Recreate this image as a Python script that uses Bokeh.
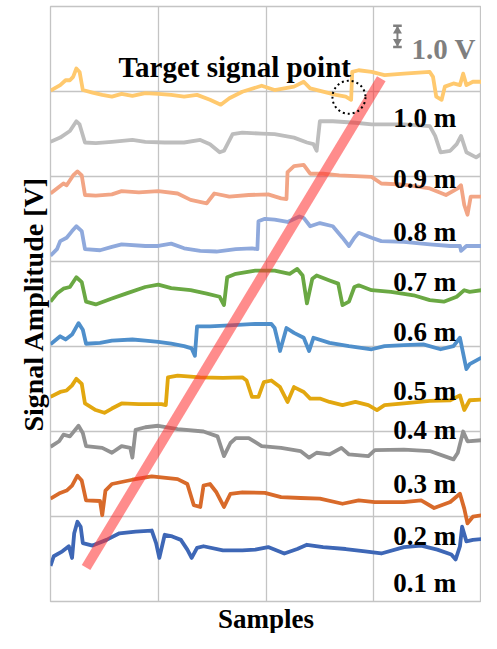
from bokeh.plotting import figure
from bokeh.models import FixedTicker, Title
from bokeh.embed import file_html
from bokeh.resources import INLINE
from bokeh.core.properties import value

# ---- data (samples, volts) ----
x_grid = [0, 100, 200, 300, 400]
y_grid = [0, 4, 8, 12, 16, 20, 24, 28]

distances = ["1.0 m", "0.9 m", "0.8 m", "0.7 m", "0.6 m", "0.5 m", "0.4 m", "0.3 m", "0.2 m", "0.1 m"]

x_10 = [0, 9, 14, 18, 21, 24, 27, 30, 39, 48, 57, 66, 76, 88, 100, 112, 124, 136, 148, 158, 166, 178, 196, 208, 226, 235, 241, 253, 265, 274, 279, 280, 286, 298, 310, 328, 352, 355, 358, 363, 366, 374, 380, 383, 386, 392, 400]
y_10 = [24.04, 24.30, 24.53, 24.53, 24.69, 25.08, 24.92, 24.07, 23.95, 23.84, 23.76, 23.89, 23.79, 23.92, 23.89, 23.84, 23.76, 23.84, 23.61, 23.38, 23.68, 23.99, 24.27, 24.07, 24.23, 24.46, 24.15, 23.99, 23.84, 23.76, 23.61, 24.92, 25.0, 24.92, 24.77, 24.84, 24.92, 24.69, 23.76, 23.61, 24.23, 24.38, 24.30, 24.84, 24.30, 24.46, 24.46]

x_09 = [0, 9, 18, 24, 27, 32, 42, 57, 76, 88, 106, 124, 139, 148, 157, 161, 169, 178, 196, 208, 226, 238, 244, 247, 250, 262, 283, 298, 328, 352, 357, 362, 371, 377, 381, 386, 395, 400]
y_09 = [21.63, 21.83, 22.14, 22.60, 22.45, 21.60, 21.57, 21.63, 21.72, 21.63, 21.60, 21.60, 21.72, 21.52, 21.14, 21.21, 21.99, 22.06, 22.02, 21.99, 21.83, 21.60, 21.52, 21.21, 22.60, 22.60, 22.53, 22.45, 22.45, 22.37, 21.91, 21.14, 21.21, 21.52, 21.91, 21.14, 20.90, 21.06]

x_08 = [0, 6, 12, 15, 21, 25, 29, 32, 42, 57, 66, 82, 100, 118, 130, 145, 152, 166, 184, 202, 214, 219, 220, 226, 235, 241, 253, 268, 283, 298, 307, 328, 352, 367, 378, 381, 384, 387, 390, 400]
y_08 = [19.20, 19.44, 19.67, 19.59, 20.05, 20.24, 20.05, 19.13, 19.10, 19.16, 19.31, 19.25, 19.31, 19.20, 18.90, 18.74, 19.20, 19.05, 19.13, 19.16, 18.97, 18.94, 20.21, 20.49, 20.55, 20.13, 20.13, 20.05, 20.02, 19.98, 19.67, 19.62, 19.44, 19.13, 19.44, 19.59, 18.66, 18.20, 19.05, 19.05]

x_07 = [0, 6, 9, 15, 20, 24, 29, 32, 46, 57, 66, 88, 100, 112, 124, 139, 154, 172, 187, 192, 193, 199, 208, 220, 231, 235, 241, 250, 262, 271, 277, 282, 286, 298, 307, 328, 352, 371, 380, 381, 386, 400]
y_07 = [16.27, 16.58, 16.96, 17.12, 17.43, 17.66, 17.43, 16.58, 16.53, 16.69, 16.81, 16.73, 16.73, 16.84, 16.62, 16.50, 16.47, 16.58, 16.62, 16.58, 17.89, 18.01, 17.97, 17.86, 18.12, 18.05, 17.66, 17.81, 17.66, 17.12, 16.73, 17.12, 17.35, 17.12, 16.96, 16.92, 16.81, 16.73, 16.73, 16.50, 16.73, 16.73]

x_06 = [0, 6, 12, 18, 24, 29, 33, 42, 57, 70, 88, 100, 112, 130, 145, 157, 161, 164, 172, 190, 208, 222, 229, 234, 238, 243, 247, 259, 267, 271, 277, 282, 286, 298, 316, 337, 352, 365, 377, 384, 389, 400]
y_06 = [14.11, 14.49, 14.72, 14.80, 15.26, 15.03, 14.11, 13.98, 14.26, 14.49, 14.80, 14.91, 14.75, 14.65, 14.49, 14.34, 13.95, 15.26, 15.42, 15.57, 15.57, 15.42, 15.65, 15.34, 14.03, 15.19, 15.34, 15.11, 14.96, 13.95, 14.11, 14.80, 14.88, 14.65, 14.57, 14.41, 14.18, 14.11, 14.34, 14.65, 14.57, 14.65]

x_05 = [0, 9, 14, 20, 26, 30, 33, 46, 57, 76, 88, 100, 112, 124, 131, 134, 136, 148, 166, 190, 205, 208, 211, 213, 219, 226, 235, 240, 244, 259, 277, 298, 310, 328, 346, 362, 374, 380, 386, 389, 400]
y_05 = [12.10, 12.48, 12.33, 12.56, 13.10, 12.79, 12.13, 12.17, 12.28, 12.33, 12.28, 12.22, 12.13, 12.02, 11.91, 11.56, 12.95, 12.95, 12.99, 13.06, 13.06, 12.87, 12.25, 11.79, 12.87, 12.64, 12.41, 11.79, 12.41, 12.17, 12.02, 11.87, 12.02, 12.06, 12.10, 11.87, 12.02, 12.41, 10.94, 11.17, 11.48]

x_04 = [0, 9, 15, 20, 24, 29, 32, 42, 50, 57, 66, 82, 103, 107, 109, 118, 139, 160, 178, 182, 187, 193, 198, 205, 213, 220, 226, 235, 241, 250, 259, 271, 283, 295, 303, 310, 328, 352, 371, 380, 384, 389, 400]
y_04 = [9.63, 9.86, 9.93, 10.17, 10.48, 10.24, 9.32, 9.01, 8.88, 9.08, 9.32, 9.29, 9.29, 9.24, 10.55, 10.63, 10.55, 10.52, 10.55, 10.40, 9.63, 9.63, 10.32, 10.40, 10.09, 9.39, 10.09, 9.86, 9.55, 9.55, 9.39, 9.24, 9.39, 9.24, 9.01, 9.24, 9.32, 9.44, 9.47, 9.70, 9.01, 9.47, 9.50]

x_03 = [0, 8, 12, 18, 26, 30, 33, 48, 57, 66, 74, 76, 79, 88, 100, 118, 142, 155, 161, 167, 172, 184, 196, 214, 232, 240, 247, 259, 270, 277, 295, 301, 328, 352, 374, 378, 383, 387, 400]
y_03 = [7.28, 7.54, 7.85, 7.77, 8.27, 7.93, 7.31, 7.23, 7.00, 7.31, 7.23, 6.77, 8.08, 8.20, 8.27, 8.11, 8.00, 7.77, 6.84, 7.46, 7.69, 7.69, 7.31, 7.23, 7.08, 6.77, 7.00, 6.92, 7.23, 6.92, 6.84, 7.12, 7.15, 7.08, 6.69, 7.00, 8.00, 7.54, 7.59]

x_02 = [0, 9, 15, 20, 25, 29, 33, 46, 48, 51, 57, 76, 94, 118, 127, 133, 139, 142, 148, 154, 161, 167, 178, 199, 214, 232, 250, 271, 286, 301, 328, 344, 356, 371, 380, 384, 387, 392, 400]
y_02 = [4.84, 5.11, 5.22, 5.45, 5.92, 5.69, 4.76, 4.73, 4.06, 5.22, 5.53, 5.73, 5.89, 5.76, 5.53, 4.53, 4.45, 5.45, 5.53, 5.14, 4.45, 5.07, 5.14, 5.11, 4.91, 4.87, 4.84, 4.60, 4.76, 4.68, 4.68, 4.76, 4.40, 4.68, 5.07, 4.37, 3.68, 3.99, 4.06]

x_01 = [0, 3, 11, 17, 20, 22, 25, 28, 30, 39, 52, 64, 79, 94, 98, 101, 106, 113, 121, 127, 131, 136, 142, 160, 178, 190, 202, 217, 229, 238, 253, 274, 292, 307, 328, 344, 359, 372, 376, 380, 382, 386, 392, 400]
y_01 = [1.67, 2.13, 2.36, 2.60, 2.05, 3.21, 3.75, 3.52, 2.75, 2.63, 2.90, 3.21, 3.29, 3.34, 2.75, 2.05, 3.14, 3.06, 2.90, 2.44, 2.05, 2.52, 2.60, 2.41, 2.41, 2.44, 2.56, 2.26, 2.47, 2.67, 2.56, 2.47, 2.36, 2.26, 2.56, 2.63, 2.44, 2.21, 1.98, 2.60, 3.52, 2.83, 2.90, 2.94]

# target points trend line and marked point
target_x = [33, 307]
target_y = [1.6, 24.6]
marked_x = [277]
marked_y = [23.73]

# scale bar: 1.0 V
scale_x = [322]
scale_y0 = [26.1]
scale_y1 = [27.1]

# ---- styles / layout ----
colors = ["#FFC96E", "#BDBDBD", "#F2A585", "#8FA9DC", "#6AA843", "#4F8FCB", "#E2A70F", "#929292", "#D86A2A", "#3E67B6"]
label_x = 318
label_y = [22.76, 19.88, 17.38, 15.02, 12.70, 9.92, 8.06, 5.52, 3.06, 0.88]
serif = "Liberation Serif"
grid_color = "#C4C4C4"

p = figure(width=481, height=633, x_range=(0, 400), y_range=(0, 28),
           output_backend="svg", toolbar_location=None,
           min_border_left=50, min_border_right=0, min_border_top=6, min_border_bottom=27)
p.axis.visible = False
p.xgrid.ticker = FixedTicker(ticks=x_grid)
p.ygrid.ticker = FixedTicker(ticks=y_grid)
p.grid.grid_line_color = grid_color
p.grid.grid_line_width = 1.3
p.outline_line_color = grid_color
p.outline_line_width = 1.3
p.background_fill_color = "white"
p.border_fill_color = "white"

traces = [(x_10, y_10), (x_09, y_09), (x_08, y_08), (x_07, y_07), (x_06, y_06),
          (x_05, y_05), (x_04, y_04), (x_03, y_03), (x_02, y_02), (x_01, y_01)]
for (xs, ys), c in zip(traces, colors):
    p.line(xs, ys, line_color=c, line_width=3.8, line_join="round")

p.line(target_x, target_y, line_color="#FF2E2E", line_alpha=0.55, line_width=10, line_cap="butt")
p.scatter(marked_x, marked_y, marker="circle", size=33, fill_color=None,
          line_color="black", line_width=2, line_dash="2 3")

p.text([label_x] * len(distances), label_y, text=distances,
       text_font=value(serif), text_font_style="bold", text_font_size="27px",
       text_color="black", text_baseline="alphabetic", text_align="left")

p.text([63], [25.17], text=["Target signal point"],
       text_font=value(serif), text_font_style="bold", text_font_size="29px",
       text_color="black", text_baseline="alphabetic", text_align="left")

# scale bar icon
p.segment(x0=[s - 4 for s in scale_x], y0=scale_y0, x1=[s + 4 for s in scale_x], y1=scale_y0, line_color="#7F7F7F", line_width=2.5)
p.segment(x0=[s - 4 for s in scale_x], y0=scale_y1, x1=[s + 4 for s in scale_x], y1=scale_y1, line_color="#7F7F7F", line_width=2.5)
p.segment(x0=scale_x, y0=scale_y0, x1=scale_x, y1=scale_y1, line_color="#7F7F7F", line_width=2)
p.scatter(scale_x, [26.85], marker="triangle", size=9, fill_color="#7F7F7F", line_color=None)
p.scatter(scale_x, [26.35], marker="inverted_triangle", size=9, fill_color="#7F7F7F", line_color=None)
p.text([335], [26.0], text=["1.0 V"], text_font=value(serif), text_font_style="bold",
       text_font_size="29px", text_color="#7F7F7F", text_baseline="alphabetic")

p.add_layout(Title(text="Samples", align="center", text_font=serif, text_font_style="bold",
                   text_font_size="27px", text_color="black", standoff=0), "below")
p.add_layout(Title(text="Signal Amplitude [V]", align="center", vertical_align="top", text_font=serif,
                   text_font_style="bold", text_font_size="28px", text_color="black", standoff=0), "left")

open("out.html", "w").write(file_html(p, INLINE))
